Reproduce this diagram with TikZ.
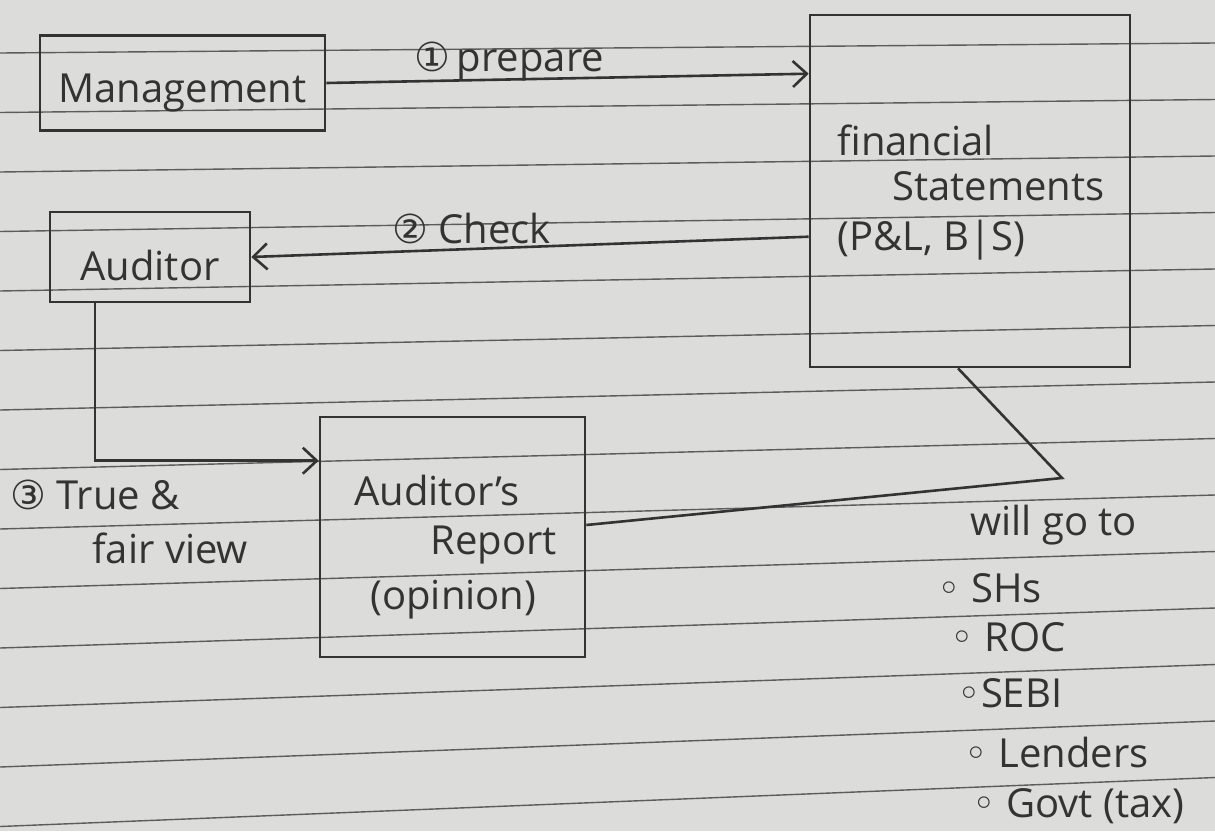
\documentclass[tikz,border=0pt]{standalone}
\usepackage{fontspec}
\setmainfont{Open Sans}
\newfontfamily\dv{DejaVu Sans}
\usetikzlibrary{arrows.meta}
\definecolor{paper}{HTML}{DCDCDA}
\definecolor{inkc}{HTML}{333333}
\definecolor{rulec}{HTML}{5C5C5C}
\begin{document}
\begin{tikzpicture}[x=0.5pt,y=-0.5pt,
  ink/.style={draw=inkc, line width=1.3pt},
  box/.style={ink, rectangle, inner sep=0pt},
  txt/.style={text=inkc, font=\fontsize{20}{24}\selectfont, inner sep=1pt},
  arr/.style={ink, -{Straight Barb[length=7pt,width=13pt,line width=1.3pt]}},
  rule/.style={draw=rulec, line width=0.7pt}]
\fill[paper] (0,0) rectangle (1215,831);
\useasboundingbox (0,0) rectangle (1215,831);
\foreach \k in {0,...,13} \draw[rule] (0,{53+59.5*\k}) -- (1215,{43+56.5*\k});
% boxes
\node[box, minimum width=142.5pt, minimum height=47.5pt] (mgmt) at (182.5,83) {};
\node[box, minimum width=100pt, minimum height=45pt] (aud) at (150,257) {};
\node[box, minimum width=160pt, minimum height=176pt] (fs) at (970,191) {};
\node[box, minimum width=132.5pt, minimum height=120pt] (rep) at (452.5,537) {};
% texts inside boxes
\node[txt] (mgt) at (182.5,93) {Management};
\node[txt] (adt) at (150,265) {Auditor};
\node[txt, anchor=west] (fs1) at (835,140) {financial};
\node[txt, anchor=west] (fs2) at (890,186) {Statements};
\node[txt, anchor=west] (fs3) at (835,240) {(P\&L, B|S)};
\node[txt, anchor=west] (rp1) at (352,490) {Auditor's};
\node[txt, anchor=west] (rp2) at (428,545) {Report};
\node[txt, anchor=west] (rp3) at (368,600) {(opinion)};
% connectors
\draw[arr] (mgmt.east) -- ([yshift=-30pt]fs.north west);
\draw[arr] ([yshift=-111.5pt]fs.north west) -- (aud.east);
\draw[arr] ([xshift=-27.5pt]aud.south) |- ([yshift=-22.5pt]rep.north west);
\coordinate (bend) at (1062,478);
\draw[ink] ([yshift=6pt]rep.east) -- (bend) -- ([xshift=-6pt]fs.south);
% labels
\node[txt, anchor=west] (l1) at (412,62) {{\dv ①}\,prepare};
\node[txt, anchor=west] (l2) at (390,228) {{\dv ②} Check};
\node[txt, anchor=west] (l3a) at (8,495) {{\dv ③} True \&};
\node[txt, anchor=west] (l3b) at (90,548) {fair view};
% list
\node[txt, anchor=west] (go) at (968,525) {will go to};
\node[txt, anchor=west] (b1) at (935,588) {{\dv ◦} SHs};
\node[txt, anchor=west] (b2) at (948,637) {{\dv ◦} ROC};
\node[txt, anchor=west] (b3) at (955,693) {{\dv ◦}SEBI};
\node[txt, anchor=west] (b4) at (962,752) {{\dv ◦} Lenders};
\node[txt, anchor=west] (b5) at (970,806) {{\dv ◦} Govt (tax)};
\end{tikzpicture}
\end{document}
